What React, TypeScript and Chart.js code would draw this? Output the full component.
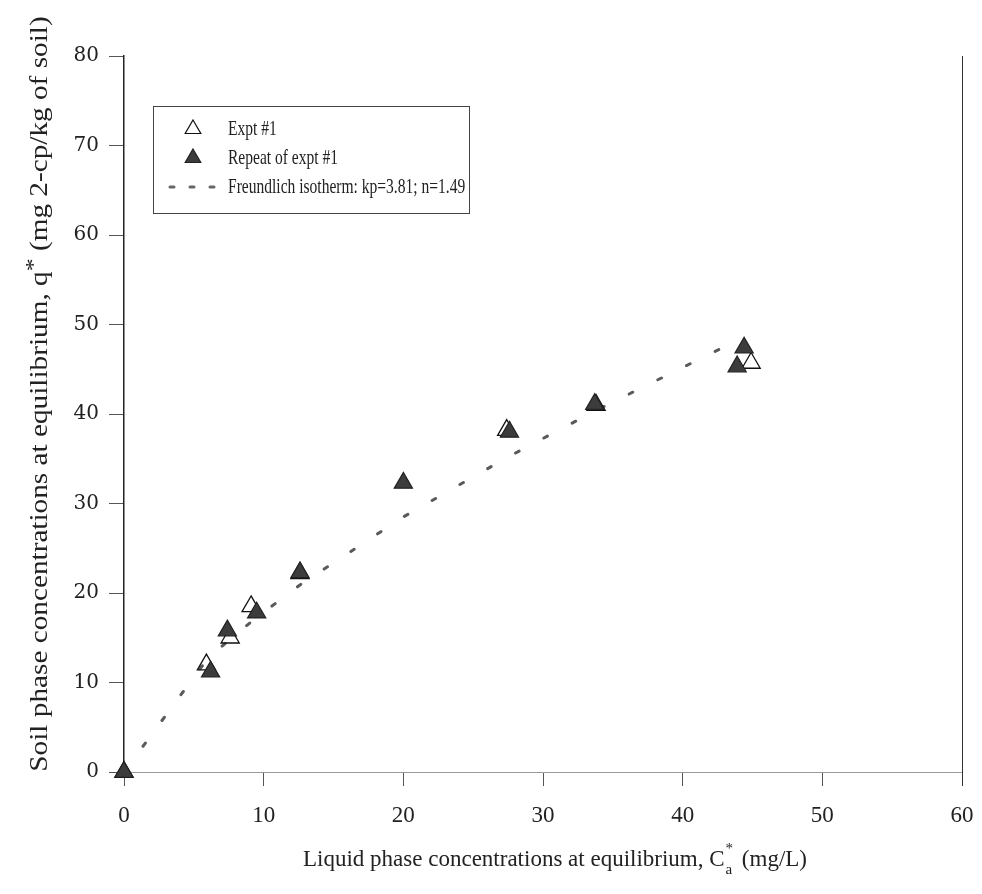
import React, { useEffect, useRef } from "react";
import { Chart, registerables } from "chart.js";

Chart.register(...registerables);

// Expt #1 (open triangles)
const exptX = [0, 5.9, 7.6, 9.1, 12.6, 27.4, 33.8, 44.9];
const exptY = [0, 12.0, 15.0, 18.5, 22.2, 38.2, 41.0, 45.7];
// Repeat of expt #1 (filled triangles)
const repX = [0, 6.2, 7.4, 9.5, 12.6, 20.0, 27.6, 33.7, 43.9, 44.4];
const repY = [0, 11.2, 15.8, 17.8, 22.3, 32.3, 38.0, 41.1, 45.3, 47.4];
// Freundlich isotherm fit
const fitX = [0, 6, 7.5, 9.2, 12.6, 20, 27.5, 33.8, 44];
const fitY = [0, 12.7, 14.7, 16.9, 20.9, 28.5, 35.2, 40.4, 48.3];

const xTicks = [0, 10, 20, 30, 40, 50, 60];
const yTicks = [0, 10, 20, 30, 40, 50, 60, 70, 80];

const legendLabels = [
  "Expt #1",
  "Repeat of expt #1",
  "Freundlich isotherm: kp=3.81; n=1.49",
];
const yTitleParts = ["Soil phase concentrations at equilibrium, q", "*", " (mg 2-cp/kg of soil)"];
const xTitleParts = ["Liquid phase concentrations at equilibrium, C", "a", "*", " (mg/L)"];

const SERIF = "'Liberation Serif', 'DejaVu Serif', serif";
const DSERIF = "'DejaVu Serif', 'Liberation Serif', serif";
const FILL_DARK = "#3c3c3c";

function toPts(xs: number[], ys: number[]) {
  return xs.map((x, i) => ({ x, y: ys[i] }));
}

function drawTriangle(ctx: CanvasRenderingContext2D, x: number, y: number, r: number, filled: boolean) {
  ctx.beginPath();
  for (let i = 0; i < 3; i++) {
    const a = -Math.PI / 2 + (i * 2 * Math.PI) / 3;
    const px = x + Math.cos(a) * r;
    const py = y + Math.sin(a) * r;
    if (i === 0) ctx.moveTo(px, py);
    else ctx.lineTo(px, py);
  }
  ctx.closePath();
  if (filled) {
    ctx.fillStyle = FILL_DARK;
    ctx.fill();
    ctx.strokeStyle = "#222";
  } else {
    ctx.strokeStyle = "#111";
  }
  ctx.lineWidth = 1.2;
  ctx.stroke();
}

function scaledText(ctx: CanvasRenderingContext2D, text: string, x: number, y: number, sx: number) {
  ctx.save();
  ctx.translate(x, y);
  ctx.scale(sx, 1);
  ctx.fillText(text, 0, 0);
  ctx.restore();
}

const decorPlugin = {
  id: "decor",
  afterDraw(chart: any) {
    const ctx: CanvasRenderingContext2D = chart.ctx;
    const ca = chart.chartArea;
    ctx.save();
    // right frame line
    ctx.strokeStyle = "#333";
    ctx.lineWidth = 1;
    ctx.beginPath();
    ctx.moveTo(ca.right + 0.5, ca.top);
    ctx.lineTo(ca.right + 0.5, ca.bottom + 14);
    ctx.stroke();

    // Legend box
    const lx = 153, ly = 106, lw = 316, lh = 107;
    ctx.fillStyle = "#fff";
    ctx.fillRect(lx, ly, lw, lh);
    ctx.strokeStyle = "#444";
    ctx.lineWidth = 1;
    ctx.strokeRect(lx + 0.5, ly + 0.5, lw, lh);
    const rows = [129, 158, 187];
    drawTriangle(ctx, 193, rows[0], 9, false);
    drawTriangle(ctx, 193, rows[1], 9, true);
    ctx.strokeStyle = "#666";
    ctx.lineWidth = 3;
    ctx.lineCap = "round";
    [172, 192, 212].forEach((dx) => {
      ctx.beginPath();
      ctx.moveTo(dx - 2, rows[2]);
      ctx.lineTo(dx + 2, rows[2]);
      ctx.stroke();
    });
    ctx.fillStyle = "#222";
    ctx.font = `21px ${SERIF}`;
    ctx.textBaseline = "middle";
    ctx.textAlign = "left";
    legendLabels.forEach((t, i) => scaledText(ctx, t, 228, rows[i], 0.74));

    // Y title (rotated)
    ctx.save();
    ctx.translate(40, 394);
    ctx.rotate(-Math.PI / 2);
    ctx.scale(1.17, 1);
    ctx.font = `25px ${SERIF}`;
    ctx.textBaseline = "middle";
    const w0 = ctx.measureText(yTitleParts[0]).width;
    ctx.font = `22px ${SERIF}`;
    const w1 = ctx.measureText(yTitleParts[1]).width;
    ctx.font = `25px ${SERIF}`;
    const w2 = ctx.measureText(yTitleParts[2]).width;
    let sx = -(w0 + w1 + w2) / 2;
    ctx.textAlign = "left";
    ctx.fillText(yTitleParts[0], sx, 0);
    sx += w0;
    ctx.font = `22px ${SERIF}`;
    ctx.fillText(yTitleParts[1], sx, -6);
    sx += w1;
    ctx.font = `25px ${SERIF}`;
    ctx.fillText(yTitleParts[2], sx, 0);
    ctx.restore();

    // X title
    ctx.font = `23px ${SERIF}`;
    ctx.textBaseline = "middle";
    ctx.textAlign = "left";
    const a0 = ctx.measureText(xTitleParts[0]).width;
    ctx.font = `15px ${SERIF}`;
    const a1 = ctx.measureText(xTitleParts[1]).width;
    const a2 = ctx.measureText(xTitleParts[2]).width;
    ctx.font = `23px ${SERIF}`;
    const a3 = ctx.measureText(xTitleParts[3]).width;
    const total = a0 + Math.max(a1, a2) + 4 + a3;
    let tx = 555 - total / 2;
    const ty = 860;
    ctx.fillText(xTitleParts[0], tx, ty);
    tx += a0;
    ctx.font = `15px ${SERIF}`;
    ctx.fillText(xTitleParts[1], tx + 1, ty + 10);
    ctx.fillText(xTitleParts[2], tx + 1, ty - 11);
    tx += Math.max(a1, a2) + 4;
    ctx.font = `23px ${SERIF}`;
    ctx.fillText(xTitleParts[3], tx, ty);
    ctx.restore();
  },
};

export default function App() {
  const ref = useRef<HTMLCanvasElement | null>(null);
  useEffect(() => {
    if (!ref.current) return;
    const chart = new Chart(ref.current, {
      type: "scatter",
      data: {
        datasets: [
          {
            label: legendLabels[1],
            data: toPts(repX, repY),
            pointStyle: "triangle",
            pointRadius: 10.5,
            backgroundColor: FILL_DARK,
            borderColor: "#222",
            borderWidth: 1.2,
            clip: false,
            order: 0,
          } as any,
          {
            label: legendLabels[0],
            data: toPts(exptX, exptY),
            pointStyle: "triangle",
            pointRadius: 10.5,
            backgroundColor: "rgba(255,255,255,0)",
            borderColor: "#111",
            borderWidth: 1.3,
            clip: false,
            order: 1,
          } as any,
          {
            label: legendLabels[2],
            type: "line",
            data: toPts(fitX, fitY),
            borderColor: "#5a5a5a",
            borderWidth: 3,
            borderDash: [4, 28],
            borderCapStyle: "round",
            pointRadius: 0,
            fill: false,
            tension: 0,
            order: 2,
          } as any,
        ],
      },
      options: {
        animation: false,
        responsive: false,
        maintainAspectRatio: false,
        layout: { padding: { top: 56, right: 20, left: 0, bottom: 0 } },
        plugins: { legend: { display: false }, tooltip: { enabled: false } },
        scales: {
          x: {
            type: "linear",
            min: 0,
            max: 60,
            afterBuildTicks: (s: any) => {
              s.ticks = xTicks.map((v) => ({ value: v }));
            },
            afterFit: (s: any) => {
              s.height = 122;
              s.paddingLeft = 0;
              s.paddingRight = 0;
            },
            ticks: {
              color: "#222",
              font: { family: SERIF, size: 23 },
              padding: 16,
              maxRotation: 0,
            },
            grid: { drawOnChartArea: false, drawTicks: true, tickLength: 14, color: "#555" },
            border: { color: "#999", width: 1 },
          },
          y: {
            type: "linear",
            min: 0,
            max: 80,
            afterBuildTicks: (s: any) => {
              s.ticks = yTicks.map((v) => ({ value: v }));
            },
            afterFit: (s: any) => {
              s.width = 124;
              s.paddingTop = 0;
              s.paddingBottom = 0;
            },
            ticks: {
              color: "#222",
              font: { family: DSERIF, size: 20 },
              padding: 10,
            },
            grid: { drawOnChartArea: false, drawTicks: true, tickLength: 15, color: "#555" },
            border: { color: "#222", width: 1.5 },
          },
        },
      },
      plugins: [decorPlugin],
    });
    return () => chart.destroy();
  }, []);
  return (
    <div style={{ position: "absolute", left: 0, top: 0, width: 982, height: 894, background: "#fff" }}>
      <canvas ref={ref} width={982} height={894} style={{ width: 982, height: 894, display: "block" }} />
    </div>
  );
}
